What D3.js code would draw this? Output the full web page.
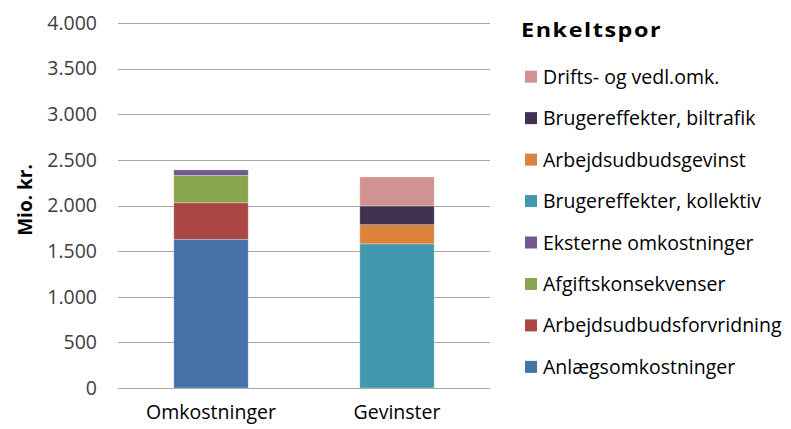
<!DOCTYPE html>
<html>
<head>
<meta charset="utf-8">
<script src="https://cdn.jsdelivr.net/npm/d3@7"></script>
<style>
  html, body { margin: 0; padding: 0; background: #fff; }
  svg { display: block; font-family: "Open Sans", Lato, sans-serif; }
</style>
</head>
<body>
<svg id="chart" width="791" height="429"></svg>
<script>
// Stacked cost/benefit bars, values in mio. kr.
const categories = ["Omkostninger", "Gevinster"];
const seriesNames = [
  "Anlægsomkostninger",
  "Arbejdsudbudsforvridning",
  "Afgiftskonsekvenser",
  "Eksterne omkostninger",
  "Brugereffekter, kollektiv",
  "Arbejdsudbudsgevinst",
  "Brugereffekter, biltrafik",
  "Drifts- og vedl.omk."
];
const omkostningerValues = [1630, 400, 300, 60, 0, 0, 0, 0];
const gevinsterValues   = [0, 0, 0, 0, 1580, 210, 205, 318];
const seriesColors = ["#4572A7", "#AA4643", "#89A54E", "#71588F", "#4198AF", "#DB843D", "#3E3250", "#D19392"];
const yTicks = [0, 500, 1000, 1500, 2000, 2500, 3000, 3500, 4000];
const yLabel = "Mio. kr.";
const legendTitle = "Enkeltspor";

const rows = categories.map((c, i) => {
  const vals = i === 0 ? omkostningerValues : gevinsterValues;
  const r = { category: c };
  seriesNames.forEach((s, j) => r[s] = vals[j]);
  return r;
});

const svg = d3.select("#chart");
const plot = { left: 118, right: 490, top: 23, bottom: 388 };

const x = d3.scaleBand().domain(categories).range([plot.left, plot.right]).paddingInner(0.6).paddingOuter(0.3);
const y = d3.scaleLinear().domain([0, 4000]).range([plot.bottom, plot.top]);
const color = d3.scaleOrdinal().domain(seriesNames).range(seriesColors);
const fmt = v => d3.format(",")(v).replace(/,/g, ".");

// gridlines
svg.append("g").selectAll("line").data(yTicks).join("line")
  .attr("x1", plot.left).attr("x2", plot.right)
  .attr("y1", d => Math.round(y(d)) + 0.5).attr("y2", d => Math.round(y(d)) + 0.5)
  .attr("stroke", "#a6a6a6").attr("stroke-width", 1);

// y axis tick labels
const yAxis = d3.axisLeft(y).tickValues(yTicks).tickFormat(fmt).tickSize(0).tickPadding(21);
const gy = svg.append("g").attr("transform", `translate(${plot.left},0)`).call(yAxis);
gy.select(".domain").remove();
gy.selectAll("text").attr("font-size", 19.5).attr("fill", "#404040").attr("font-family", "'Open Sans', sans-serif");

// y axis title
svg.append("text")
  .attr("transform", `translate(32,200) rotate(-90)`)
  .attr("text-anchor", "middle").attr("font-size", 19).attr("font-weight", "bold").attr("fill", "#000")
  .text(yLabel);

// stacked bars
const stack = d3.stack().keys(seriesNames)(rows);
svg.append("g").selectAll("g").data(stack).join("g")
  .attr("fill", d => color(d.key))
  .selectAll("rect").data(d => d.filter(p => p[1] - p[0] > 0)).join("rect")
  .attr("x", d => x(d.data.category))
  .attr("width", x.bandwidth())
  .attr("y", d => y(d[1]))
  .attr("height", d => y(d[0]) - y(d[1]))
  .attr("stroke", "#ffffff").attr("stroke-opacity", 0.35).attr("stroke-width", 0.8);

// x axis labels
const xAxis = d3.axisBottom(x).tickSize(0).tickPadding(17);
const gx = svg.append("g").attr("transform", `translate(0,${plot.bottom})`).call(xAxis);
gx.select(".domain").remove();
gx.selectAll("text").attr("font-size", 19.5).attr("fill", "#000").attr("font-family", "'Open Sans', sans-serif");

// legend title, slightly widened bold face
svg.append("text").attr("transform", "translate(521,37) scale(1.2,1)")
  .attr("font-size", 19.5).attr("font-weight", "bold").attr("fill", "#000")
  .attr("letter-spacing", 1.3)
  .text(legendTitle);

const legendItems = seriesNames.slice().reverse();
const lg = svg.append("g").selectAll("g").data(legendItems).join("g")
  .attr("transform", (d, i) => `translate(525,${76.7 + i * 41.45})`);
lg.append("rect").attr("x", 0).attr("y", -6).attr("width", 12).attr("height", 12).attr("fill", d => color(d));
lg.append("text").attr("x", 18).attr("y", 7).attr("font-size", 19.5).attr("fill", "#000").text(d => d);
</script>
</body>
</html>
